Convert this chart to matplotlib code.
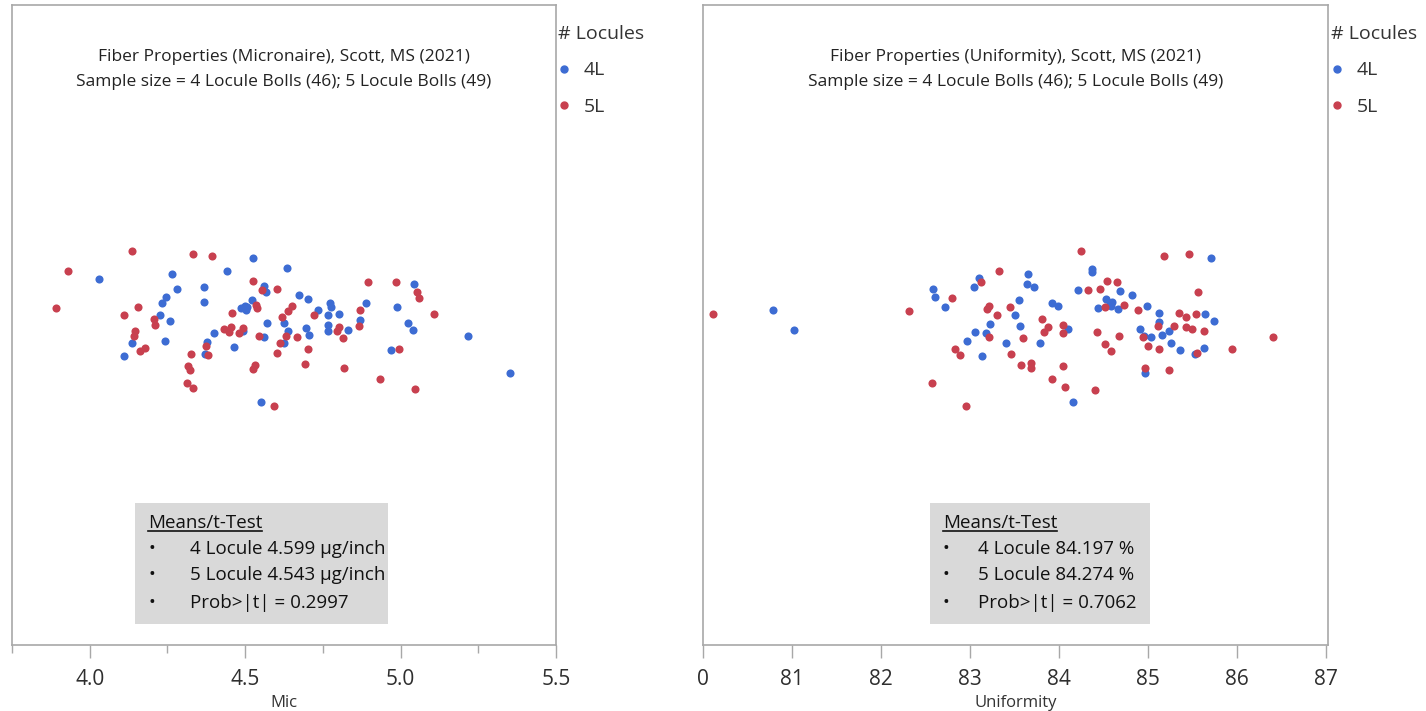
import matplotlib
matplotlib.use("Agg")
import matplotlib.pyplot as plt
from matplotlib import font_manager
from matplotlib.lines import Line2D

# ---- data -------------------------------------------------------------
# Micronaire (x) and vertical jitter (y) for each boll
mic_4l = [4.029, 4.110, 4.135, 4.265, 4.281, 4.245, 4.232, 4.226, 4.258, 4.242,
          4.368, 4.368, 4.442, 4.400, 4.377, 4.371, 4.465, 4.526, 4.487, 4.500,
          4.506, 4.503, 4.523, 4.561, 4.568, 4.571, 4.561, 4.494, 4.635, 4.626,
          4.639, 4.626, 4.552, 4.674, 4.703, 4.697, 4.706, 4.735, 4.774, 4.777,
          4.768, 4.768, 4.765, 4.803, 4.832, 4.890, 4.868, 4.987, 5.042, 5.023,
          5.039, 4.968, 5.216, 5.352]
mic_4l_jit = [366, 289, 302, 371, 356, 348, 342, 330, 324, 304,
              358, 343, 374, 312, 303, 291, 298, 387, 337, 339,
              338, 335, 345, 359, 353, 322, 308, 314, 377, 322,
              314, 302, 243, 350, 346, 317, 310, 335, 342, 338,
              330, 320, 314, 331, 315, 342, 325, 338, 361, 322,
              315, 295, 309, 272]
mic_5l = [3.929, 3.890, 4.135, 4.110, 4.155, 4.145, 4.142, 4.161, 4.177, 4.206,
          4.210, 4.332, 4.394, 4.326, 4.374, 4.381, 4.316, 4.323, 4.313, 4.332,
          4.458, 4.432, 4.455, 4.448, 4.481, 4.494, 4.526, 4.555, 4.535, 4.539,
          4.603, 4.619, 4.639, 4.652, 4.632, 4.613, 4.603, 4.545, 4.532, 4.526,
          4.594, 4.668, 4.703, 4.694, 4.723, 4.803, 4.797, 4.816, 4.819, 4.868,
          4.865, 4.894, 4.984, 5.052, 5.058, 5.106, 4.994, 4.935, 5.045]
mic_5l_jit = [374, 337, 394, 330, 338, 314, 309, 294, 297, 326,
              320, 391, 389, 291, 299, 290, 279, 275, 262, 257,
              332, 316, 318, 313, 312, 317, 364, 355, 340, 337,
              356, 328, 334, 339, 309, 302, 292, 309, 280, 276,
              239, 308, 296, 281, 330, 318, 314, 307, 277, 335,
              319, 363, 363, 353, 347, 331, 296, 266, 256]

# Uniformity (x) and vertical jitter (y) for each boll
unif_4l = [80.787, 81.022, 82.584, 82.607, 82.719, 83.101, 83.045, 83.652, 83.640, 83.719,
           84.371, 84.371, 84.213, 84.685, 84.820, 83.551, 83.921, 83.989, 83.506, 83.225,
           83.562, 83.056, 83.180, 82.966, 83.135, 83.404, 83.787, 84.101, 84.157, 84.438,
           84.528, 84.573, 84.596, 84.584, 84.663, 84.989, 84.910, 84.955, 85.034, 85.124,
           85.124, 85.157, 85.236, 85.258, 85.640, 85.742, 85.360, 85.528, 85.629, 84.966,
           85.708]
unif_4l_jit = [335, 315, 356, 348, 338, 367, 358, 371, 361, 358,
               376, 373, 355, 354, 350, 345, 342, 339, 330, 321,
               319, 313, 312, 304, 289, 302, 302, 316, 243, 337,
               346, 341, 343, 339, 336, 339, 316, 309, 308, 332,
               323, 310, 314, 302, 331, 324, 295, 291, 297, 272,
               387]
unif_5l = [80.112, 82.315, 82.798, 82.831, 82.573, 84.247, 85.180, 85.461, 83.326, 83.124,
           84.326, 84.461, 84.539, 84.652, 85.562, 83.191, 83.213, 83.303, 83.449, 83.213,
           82.888, 83.461, 83.596, 83.809, 83.876, 83.831, 83.573, 83.685, 83.685, 83.921,
           84.045, 84.045, 84.045, 84.067, 82.955, 84.517, 84.730, 84.888, 84.427, 84.517,
           84.584, 84.674, 84.404, 84.944, 85.000, 85.112, 85.124, 85.292, 85.348, 85.427,
           85.427, 85.494, 85.539, 85.629, 85.551, 84.966, 85.236, 85.944, 86.404]
unif_5l_jit = [331, 334, 347, 296, 262, 394, 389, 391, 374, 363,
               355, 356, 364, 363, 353, 336, 339, 330, 338, 308,
               290, 291, 307, 326, 318, 313, 280, 282, 277, 266,
               320, 312, 279, 258, 239, 338, 340, 335, 313, 301,
               294, 309, 255, 308, 299, 319, 296, 319, 332, 328,
               318, 316, 331, 314, 292, 277, 275, 296, 308]

mic_ticks = [4.0, 4.5, 5.0, 5.5]
mic_ticklabels = ["4.0", "4.5", "5.0", "5.5"]
unif_ticks = [80, 81, 82, 83, 84, 85, 86, 87]
unif_ticklabels = ["0", "81", "82", "83", "84", "85", "86", "87"]

legend_labels = ["4L", "5L"]
titles = ["Fiber Properties (Micronaire), Scott, MS (2021)",
          "Fiber Properties (Uniformity), Scott, MS (2021)"]
subtitle = "Sample size = 4 Locule Bolls (46); 5 Locule Bolls (49)"
mic_stats = ["4 Locule 4.599 µg/inch", "5 Locule 4.543 µg/inch", "Prob>|t| = 0.2997"]
unif_stats = ["4 Locule 84.197 %", "5 Locule 84.274 %", "Prob>|t| = 0.7062"]

BLUE = "#3d6cd3"
RED = "#c8404f"
FRAME = "#a8a8a8"


def pick_font(names):
    for n in names:
        try:
            font_manager.findfont(n, fallback_to_default=False)
            return n
        except Exception:
            pass
    return "DejaVu Sans"


FONT = pick_font(["Liberation Sans Narrow", "Open Sans", "Noto Sans"])
plt.rcParams["font.family"] = [FONT, "DejaVu Sans"]

fig = plt.figure(figsize=(14.26, 7.11), dpi=100)
ax1 = fig.add_axes([12 / 1426, 66 / 711, 544 / 1426, 640 / 711])
ax2 = fig.add_axes([703 / 1426, 66 / 711, 625 / 1426, 640 / 711])


def style_axis(ax, xlim, ticks, ticklabels, xlabel):
    ax.set_xlim(*xlim)
    ax.set_ylim(0, 640)
    ax.set_yticks([])
    for s in ax.spines.values():
        s.set_color(FRAME)
        s.set_linewidth(1.2)
    ax.set_xticks(ticks)
    ax.set_xticklabels(ticklabels)
    ax.tick_params(axis="x", direction="out", length=9, width=1, color=FRAME,
                   labelsize=15, labelcolor="#2e2e2e", pad=8)
    ax.tick_params(axis="x", which="minor", direction="out", length=6, width=1, color=FRAME)
    ax.set_xlabel(xlabel, fontsize=12, color="#333333", labelpad=4)


def draw_panel(ax, x4, y4, x5, y5, title, stats, box_x, head_x, text_x):
    ax.scatter(x4, y4, s=34, color=BLUE, linewidths=0, zorder=3)
    ax.scatter(x5, y5, s=34, color=RED, linewidths=0, zorder=3)
    ax.text(0.5, 0.919, title, transform=ax.transAxes, ha="center", va="center",
            fontsize=12.5, color="#222222")
    ax.text(0.5, 0.880, subtitle, transform=ax.transAxes, ha="center", va="center",
            fontsize=12.5, color="#222222")
    # summary box with means and t-test
    ax.add_patch(plt.Rectangle((box_x[0], 0.033), box_x[1] - box_x[0], 0.189,
                               transform=ax.transAxes, facecolor="#d9d9d9",
                               edgecolor="none", zorder=2))
    head = ax.text(head_x, 0.191, "Means/t-Test", transform=ax.transAxes,
                   ha="left", va="center", fontsize=13.5, color="#111111", zorder=4)
    for yy, line in zip([0.150, 0.109, 0.066], stats):
        ax.text(head_x, yy, "•", transform=ax.transAxes, ha="left", va="center",
                fontsize=13, color="#111111", zorder=4)
        ax.text(text_x, yy, line, transform=ax.transAxes, ha="left", va="center",
                fontsize=13.5, color="#111111", zorder=4)
    return head


style_axis(ax1, (3.75, 5.5), mic_ticks, mic_ticklabels, "Mic")
ax1.set_xticks([3.75, 4.25, 4.75, 5.25], minor=True)
style_axis(ax2, (80, 87.02), unif_ticks, unif_ticklabels, "Uniformity")

h1 = draw_panel(ax1, mic_4l, mic_4l_jit, mic_5l, mic_5l_jit, titles[0], mic_stats,
                (0.226, 0.691), 0.250, 0.327)
h2 = draw_panel(ax2, unif_4l, unif_4l_jit, unif_5l, unif_5l_jit, titles[1], unif_stats,
                (0.363, 0.715), 0.384, 0.440)

# legends outside each panel
handles = [Line2D([], [], ls="", marker="o", ms=5, color=BLUE),
           Line2D([], [], ls="", marker="o", ms=5, color=RED)]
for ax, xf in [(ax1, 558 / 1426), (ax2, 1331 / 1426)]:
    leg = ax.legend(handles, legend_labels, title="# Locules", loc="upper left",
                    bbox_to_anchor=(xf, 1 - 25 / 711), bbox_transform=fig.transFigure,
                    frameon=False, fontsize=14, title_fontsize=14, handlelength=0.6,
                    handletextpad=0.7, labelspacing=0.95, borderpad=0, borderaxespad=0,
                    alignment="left")
    for t in leg.get_texts():
        t.set_color("#333333")
    leg.get_title().set_color("#333333")

# underline the box headings
fig.canvas.draw()
for h in (h1, h2):
    bb = h.get_window_extent()
    fig.add_artist(Line2D([bb.x0, bb.x1], [bb.y0 + 1, bb.y0 + 1], color="#111111",
                          lw=1.2, transform=None))

fig.savefig("out.png", dpi=100)
